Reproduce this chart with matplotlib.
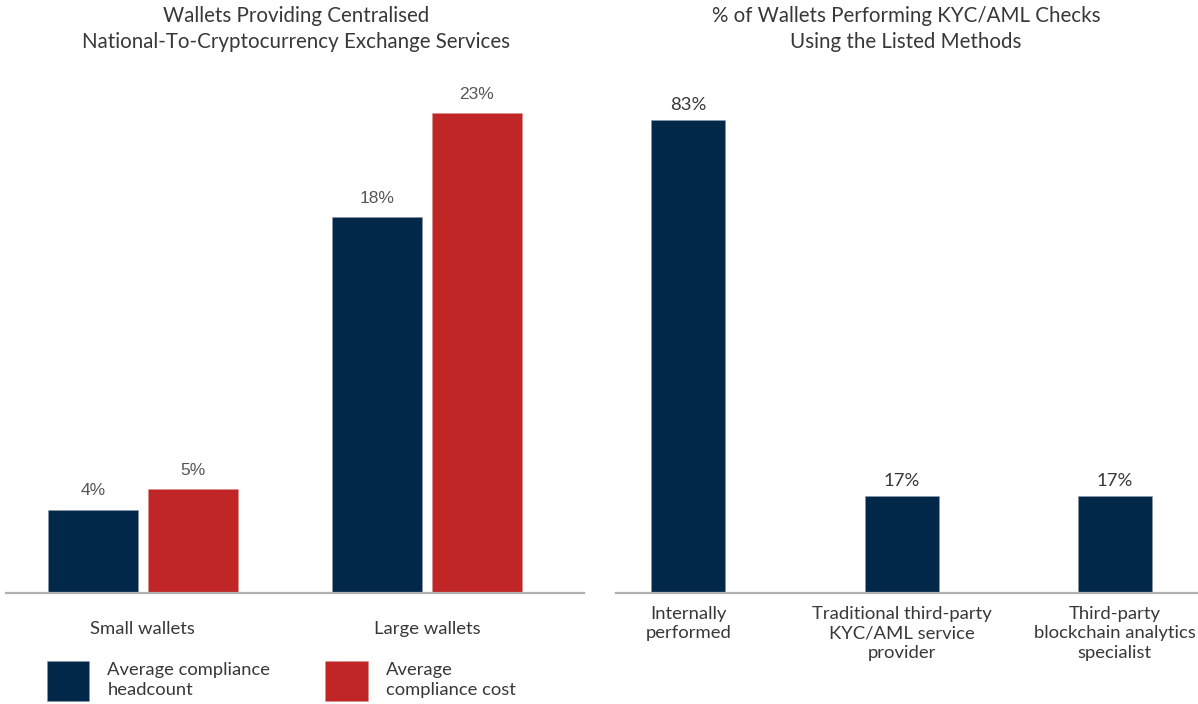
import matplotlib.pyplot as plt
import numpy as np

plt.rcParams['font.family'] = ['Lato', 'DejaVu Sans']

NAVY = '#022849'
RED = '#c02626'
TEXT = '#383838'

# left panel: centralised exchange wallets
wallet_groups = ['Small wallets', 'Large wallets']
headcount = [4, 18]
cost = [5, 23]
series_names = ['Average compliance\nheadcount', 'Average\ncompliance cost']

# right panel: KYC/AML check methods
methods = ['Internally\nperformed',
           'Traditional third-party\nKYC/AML service\nprovider',
           'Third-party\nblockchain analytics\nspecialist']
method_share = [83, 17, 17]

W, H = 1198, 704
fig = plt.figure(figsize=(W / 100, H / 100), dpi=100)

base = (H - 593) / H
top = (H - 90) / H
ax1 = fig.add_axes([6 / W, base, 578 / W, top - base])
ax2 = fig.add_axes([616 / W, base, 582 / W, top - base])

for ax in (ax1, ax2):
    for s in ('top', 'right', 'left'):
        ax.spines[s].set_visible(False)
    ax.spines['bottom'].set_color('#b0b0b0')
    ax.spines['bottom'].set_linewidth(1.6)
    ax.set_yticks([])
    ax.tick_params(axis='x', length=0, colors=TEXT, labelsize=13.3)

# grouped bars
x = np.arange(len(wallet_groups))
bw = 0.317
off = 0.176
b1 = ax1.bar(x - off, headcount, bw, color=NAVY, edgecolor='#8a98a8', linewidth=0.4)
b2 = ax1.bar(x + off, cost, bw, color=RED, edgecolor='#d89090', linewidth=0.4)
for bars, vals in ((b1, headcount), (b2, cost)):
    for r, v in zip(bars, vals):
        ax1.annotate(f'{v}%', (r.get_x() + r.get_width() / 2, v),
                     xytext=(0, 8), textcoords='offset points',
                     ha='center', va='bottom', fontsize=12.5, color='#555555',
                     family=['Liberation Sans', 'DejaVu Sans'])
ax1.set_xlim(-0.482, 1.553)
ax1.set_ylim(0, 23 * 503 / 480)
ax1.set_xticks(x, wallet_groups)
ax1.tick_params(axis='x', pad=20)

# method bars
xm = np.arange(len(methods))
bm = ax2.bar(xm, method_share, 0.347, color=NAVY, edgecolor='#8a98a8', linewidth=0.4)
for r, v in zip(bm, method_share):
    ax2.annotate(f'{v}%', (r.get_x() + r.get_width() / 2, v),
                 xytext=(0, 5), textcoords='offset points',
                 ha='center', va='bottom', fontsize=13.3, color=TEXT)
ax2.set_xlim(-0.34, 2.39)
ax2.set_ylim(0, 83 * 503 / 473)
ax2.set_xticks(xm, methods, linespacing=1.3)
ax2.tick_params(axis='x', pad=9)

fig.text(296 / W, 1 - 29 / H,
         'Wallets Providing Centralised\nNational-To-Cryptocurrency Exchange Services',
         ha='center', va='center', fontsize=14.8, color=TEXT, linespacing=1.38)
fig.text(906 / W, 1 - 29 / H,
         '% of Wallets Performing KYC/AML Checks\nUsing the Listed Methods',
         ha='center', va='center', fontsize=14.8, color=TEXT, linespacing=1.38)

leg = fig.legend([b1, b2], series_names, loc='center left',
                 bbox_to_anchor=(47 / W, 1 - 681 / H), ncol=2, frameon=False,
                 fontsize=13.2, labelcolor=TEXT, handlelength=2.3, handleheight=3.0,
                 handletextpad=1.0, columnspacing=3.0, borderpad=0, borderaxespad=0,
                 labelspacing=0)
for t in leg.get_texts():
    t.set_linespacing(1.3)

fig.savefig('out.png', dpi=100)
